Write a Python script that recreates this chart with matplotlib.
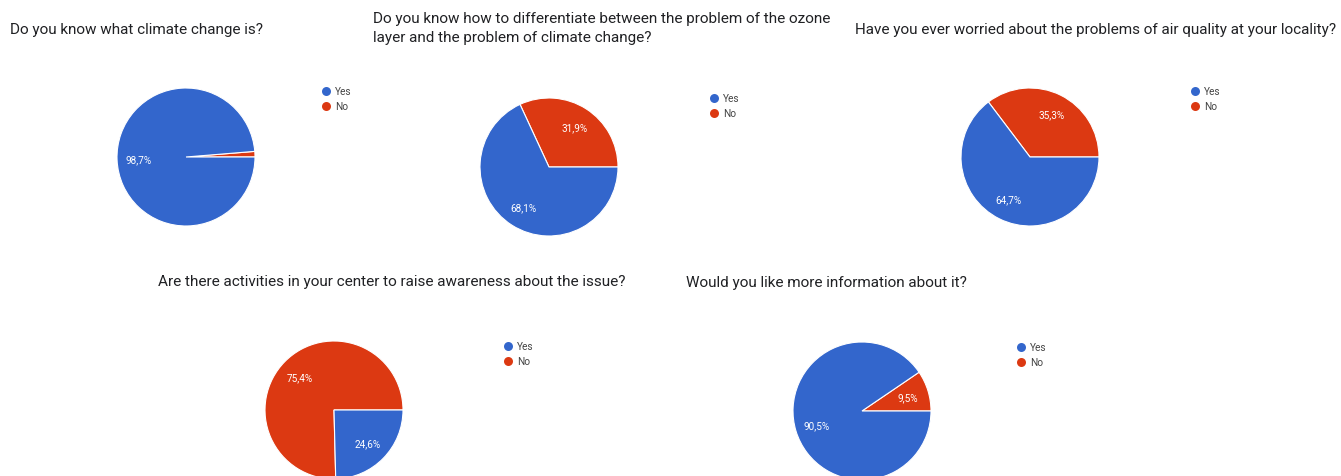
import matplotlib.pyplot as plt

W, H = 1341, 477

questions = [
    "Do you know what climate change is?",
    "Do you know how to differentiate between the problem of the ozone\nlayer and the problem of climate change?",
    "Have you ever worried about the problems of air quality at your locality?",
    "Are there activities in your center to raise awareness about the issue?",
    "Would you like more information about it?",
]
answers = ["Yes", "No"]
yes_pct = [98.7, 68.1, 64.7, 24.6, 90.5]
no_pct = [1.3, 31.9, 35.3, 75.4, 9.5]
colors = {"Yes": "#3366cc", "No": "#dc3912"}

# layout, in pixels from the top left corner
R = 69
centers = [(186, 158), (549, 168), (1030, 158), (334, 411), (862, 412)]
title_pos = [(10, 30), (373, 28.5), (855, 30), (158, 282), (686, 283)]
legend_pos = [(326, 92), (714, 99), (1195, 92), (508, 347), (1021, 348)]


def pct_label(p):
    if p < 5:
        return ""
    return f"{p:.1f}%".replace(".", ",")


fig = plt.figure(figsize=(W / 100, H / 100), dpi=100)
plt.rcParams["font.family"] = ["Roboto", "DejaVu Sans"]

# overlay for titles and legends
ov = fig.add_axes([0, 0, 1, 1])
ov.set_xlim(0, W)
ov.set_ylim(H, 0)
ov.axis("off")

for i, q in enumerate(questions):
    cx, cy = centers[i]
    ax = fig.add_axes([(cx - R) / W, (H - cy - R) / H, 2 * R / W, 2 * R / H])
    ax.pie([no_pct[i], yes_pct[i]],
           colors=[colors["No"], colors["Yes"]],
           startangle=0, counterclock=True,
           autopct=pct_label, pctdistance=0.69,
           wedgeprops=dict(edgecolor="white", linewidth=0.8),
           textprops=dict(color="white", fontsize=7.2))
    ax.set_xlim(-1, 1)
    ax.set_ylim(-1, 1)
    ax.axis("off")

    tx, ty = title_pos[i]
    ov.text(tx, ty, q, fontsize=11, color="#202124", ha="left", va="center",
            linespacing=1.45)

    lx, ly = legend_pos[i]
    for k, a in enumerate(answers):
        ov.scatter(lx, ly + 15 * k, s=42, color=colors[a], linewidths=0)
        ov.text(lx + 9, ly + 15 * k, a, fontsize=7.3, color="#444444",
                ha="left", va="center")

fig.savefig("out.png", dpi=100)
